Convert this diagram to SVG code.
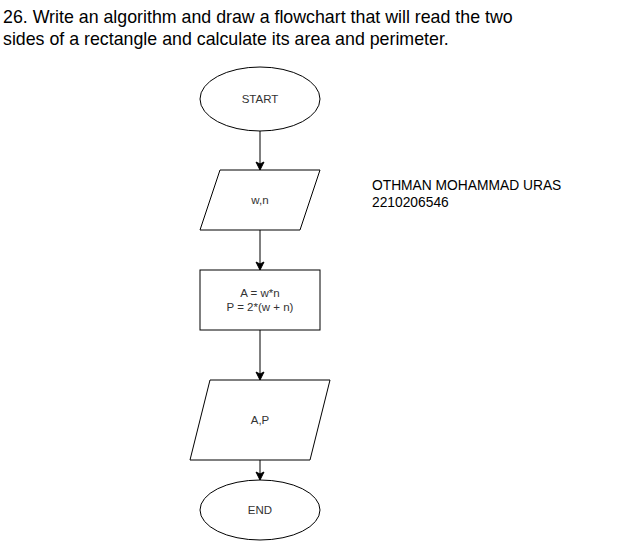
<svg xmlns="http://www.w3.org/2000/svg" width="641" height="541" viewBox="0 0 641 541">
<defs>
<marker id="arr" markerWidth="10" markerHeight="10" refX="9" refY="5" orient="auto" markerUnits="userSpaceOnUse">
<path d="M1,1 L9,5 L1,9 L3,5 Z" fill="#000" stroke="#000" stroke-width="1"/>
</marker>
</defs>
<style>
.s{fill:#fff;stroke:#000;stroke-width:1}
.t{font-family:"Liberation Sans",Arial,sans-serif;font-size:11.5px;fill:#333;text-anchor:middle}
.c{stroke:#000;stroke-width:1;fill:none;marker-end:url(#arr)}
.h{font-family:"Liberation Sans",Arial,sans-serif;font-size:17.8px;fill:#000}
.n{font-family:"Liberation Sans",Arial,sans-serif;font-size:13.8px;fill:#000}
</style>
<rect width="641" height="541" fill="#fff"/>
<text class="h" x="3" y="23">26. Write an algorithm and draw a flowchart that will read the two</text>
<text class="h" x="3" y="45">sides of a rectangle and calculate its area and perimeter.</text>
<g id="connectors">
<line class="c" x1="260" y1="131" x2="260" y2="170"/>
<line class="c" x1="260" y1="230" x2="260" y2="270"/>
<line class="c" x1="260" y1="330" x2="260" y2="380"/>
<line class="c" x1="260" y1="460" x2="260" y2="480"/>
</g>
<g id="start">
<ellipse class="s" cx="260" cy="99" rx="60" ry="32"/>
<text class="t" x="260" y="103">START</text>
</g>
<g id="input">
<polygon class="s" points="220,170 320,170 300,230 200,230"/>
<text class="t" x="260" y="204">w,n</text>
</g>
<g id="process">
<rect class="s" x="200" y="270" width="120" height="60"/>
<text class="t" x="260" y="297">A = w*n</text>
<text class="t" x="260" y="311">P = 2*(w + n)</text>
</g>
<g id="output">
<polygon class="s" points="210,380 330,380 310,460 190,460"/>
<text class="t" x="260" y="424">A,P</text>
</g>
<g id="end">
<ellipse class="s" cx="260" cy="510" rx="60" ry="30"/>
<text class="t" x="260" y="514">END</text>
</g>
<g id="author">
<text class="n" x="372" y="190">OTHMAN MOHAMMAD URAS</text>
<text class="n" x="372" y="207">2210206546</text>
</g>
</svg>
